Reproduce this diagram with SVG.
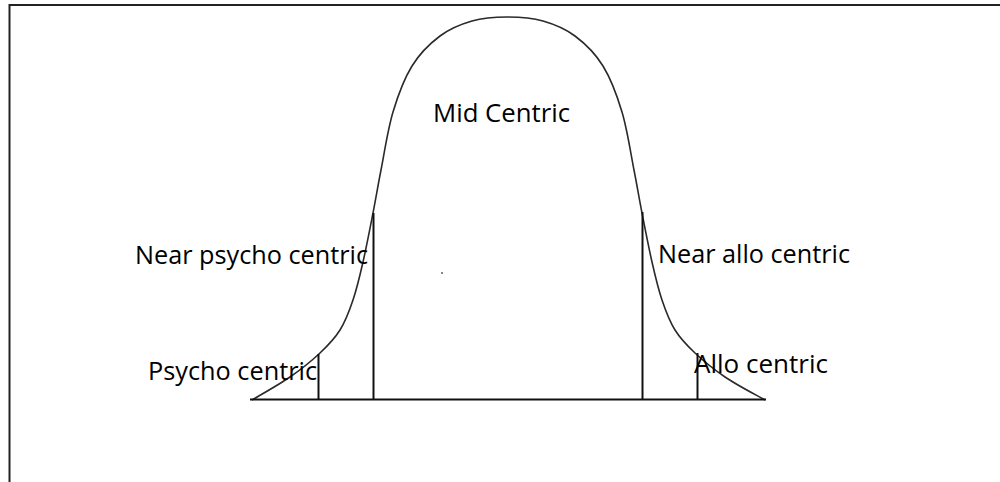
<svg xmlns="http://www.w3.org/2000/svg" width="1000" height="482" viewBox="0 0 1000 482">
<style>
.frame{fill:none;stroke:#222;stroke-width:2}
.curve{fill:none;stroke:#2a2a2a;stroke-width:1.6}
.rule{fill:none;stroke:#111;stroke-width:2}
.lbl{font-family:"Open Sans","Liberation Sans",sans-serif;font-size:25px;fill:#000}
</style>
<rect width="1000" height="482" fill="#fff"/>
<g id="frame">
<path class="frame" d="M9.5,482 V5 H1000"/>
</g>
<g id="connectors">
<path class="curve" d="M252,400 C258.3,396.2 278.7,384.8 290,377 C301.3,369.2 311.7,360.8 320,353 C328.3,345.2 334.5,338.8 340,330 C345.5,321.2 349.2,311.3 353,300 C356.8,288.7 359.7,276.5 363,262 C366.3,247.5 370,228.3 373,213 C376,197.7 377.7,186.8 381,170 C384.3,153.2 387.8,129.3 393,112 C398.2,94.7 404.2,78.7 412,66 C419.8,53.3 430,43.5 440,36 C450,28.5 460.8,24.2 472,21 C483.2,17.8 495.3,17 507,17 C518.7,17 531.8,17.8 543,21 C554.2,24.2 565,28.5 575,36 C585,43.5 595.2,53.3 603,66 C610.8,78.7 616.8,94.7 622,112 C627.2,129.3 630.7,153.2 634,170 C637.3,186.8 639,197.7 642,213 C645,228.3 648.7,247.5 652,262 C655.3,276.5 658.2,288.7 662,300 C665.8,311.3 669.5,321.2 675,330 C680.5,338.8 686.7,345.2 695,353 C703.3,360.8 713.7,369.2 725,377 C736.3,384.8 758,396 765,400"/>
<path class="rule" d="M250,399.5 H766"/>
<path class="rule" d="M318.5,354 V400"/>
<path class="rule" d="M373.5,213 V400"/>
<path class="rule" d="M642.5,212 V400"/>
<path class="rule" d="M697.5,353 V400"/>
</g>
<g id="dot"><rect x="441" y="272" width="2" height="2" fill="#888"/></g>
<g id="mid-centric"><text class="lbl" x="433" y="122" textLength="137" lengthAdjust="spacingAndGlyphs">Mid Centric</text></g>
<g id="near-psycho-centric"><text class="lbl" x="135" y="264" textLength="233" lengthAdjust="spacingAndGlyphs">Near psycho centric</text></g>
<g id="near-allo-centric"><text class="lbl" x="658" y="263" textLength="192" lengthAdjust="spacingAndGlyphs">Near allo centric</text></g>
<g id="psycho-centric"><text class="lbl" x="148" y="380" textLength="169" lengthAdjust="spacingAndGlyphs">Psycho centric</text></g>
<g id="allo-centric"><text class="lbl" x="694" y="373" textLength="134" lengthAdjust="spacingAndGlyphs">Allo centric</text></g>
</svg>
